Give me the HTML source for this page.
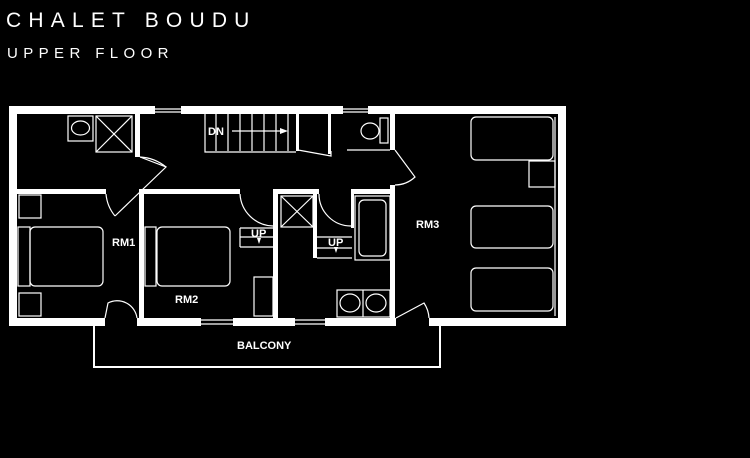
<!DOCTYPE html>
<html><head><style>
body{margin:0;background:#000;width:750px;height:458px;overflow:hidden}
svg{position:absolute;left:0;top:0}
.t{font-family:"Liberation Sans",sans-serif;fill:#fff}
</style></head><body>
<svg width="750" height="458" viewBox="0 0 750 458">
<text class="t" x="6" y="27" font-size="21" letter-spacing="7.2">CHALET BOUDU</text>
<text class="t" x="7" y="58" font-size="15" letter-spacing="5.4">UPPER FLOOR</text>
<g fill="#fff">
<rect x="9" y="106" width="146" height="8"/><rect x="181" y="106" width="162" height="8"/><rect x="368" y="106" width="198" height="8"/>
<rect x="9" y="106" width="8" height="220"/><rect x="558" y="106" width="8" height="220"/>
<rect x="9" y="318" width="96" height="8"/><rect x="137" y="318" width="64" height="8"/><rect x="233" y="318" width="62" height="8"/><rect x="325" y="318" width="71" height="8"/><rect x="429" y="318" width="137" height="8"/>
<rect x="17" y="189" width="89" height="5"/><rect x="140" y="189" width="100" height="5"/><rect x="273" y="189" width="46" height="5"/><rect x="351" y="189" width="42" height="5"/>
<rect x="139" y="189" width="5" height="129"/><rect x="273" y="189" width="5" height="129"/>
<rect x="390" y="114" width="5" height="36"/><rect x="390" y="185" width="5" height="133"/>
<rect x="313" y="192" width="4" height="66"/><rect x="351" y="192" width="3" height="36"/>
<rect x="135" y="114" width="5" height="43"/>
<rect x="296" y="114" width="3" height="37"/><rect x="328" y="114" width="3" height="40"/>
</g>
<g fill="none" stroke="#fff" stroke-width="1.2">
<line x1="155" y1="109" x2="181" y2="109"/><line x1="155" y1="112" x2="181" y2="112"/>
<line x1="343" y1="109" x2="368" y2="109"/><line x1="343" y1="112" x2="368" y2="112"/>
<line x1="201" y1="320" x2="233" y2="320"/><line x1="201" y1="324" x2="233" y2="324"/>
<line x1="295" y1="320" x2="325" y2="320"/><line x1="295" y1="324" x2="325" y2="324"/>
<path d="M94 326 V367 H440 V326" stroke-width="2"/>
<path d="M205 114 V152 H296"/>
<path d="M216 114V151M228 114V151M240 114V151M252 114V151M264 114V151M276 114V151M288 114V151"/>
<line x1="232" y1="131" x2="280" y2="131"/>
<path d="M140 157 L166 167 L115 216"/><path d="M140 157 A45 45 0 0 1 166 167"/><path d="M106 194 A40 40 0 0 0 115 216"/>
<path d="M331 151 L331 156 L298 150"/>
<path d="M395 150 L415 177 A30 30 0 0 1 395 185"/>
<path d="M240 194 A34 34 0 0 0 273 226"/>
<path d="M319 194 A32 32 0 0 0 351 226"/>
<path d="M105 318 L108 303 A20 20 0 0 1 137 318"/>
<path d="M396 318 L424 303 A30 30 0 0 1 429 318"/>
<rect x="19" y="195" width="22" height="23"/><rect x="19" y="293" width="22" height="23"/>
<rect x="18" y="227" width="12" height="59"/><rect x="30" y="227" width="73" height="59" rx="5"/>
<rect x="145" y="227" width="11" height="59"/><rect x="157" y="227" width="73" height="59" rx="5"/>
<rect x="254" y="277" width="19" height="39"/>
<path d="M240 228 H274 M240 237 H274 M240 247 H274 M240 228 V247"/>
<rect x="471" y="117" width="82" height="43" rx="5"/><rect x="471" y="206" width="82" height="42" rx="5"/><rect x="471" y="268" width="82" height="43" rx="5"/>
<rect x="529" y="161" width="26" height="26"/>
<line x1="555" y1="117" x2="555" y2="316"/>
<rect x="68" y="116" width="25" height="25"/><ellipse cx="80.5" cy="128" rx="9" ry="7"/>
<rect x="96" y="116" width="36" height="36"/><path d="M96 116 L132 152 M132 116 L96 152"/>
<ellipse cx="370" cy="131" rx="9" ry="8"/><rect x="380" y="118" width="8" height="25"/>
<line x1="347" y1="150" x2="390" y2="150"/>
<rect x="281" y="196" width="32" height="31"/><path d="M281 196 L313 227 M313 196 L281 227"/>
<path d="M317 237 H352 M317 248 H352 M317 258 H352"/>
<rect x="355" y="196" width="35" height="64"/><rect x="359" y="200" width="27" height="56" rx="5"/>
<rect x="337" y="290" width="53" height="27"/><line x1="363" y1="290" x2="363" y2="317"/>
<ellipse cx="350" cy="303" rx="10" ry="9"/><ellipse cx="376" cy="303" rx="10" ry="9"/>
</g>
<path d="M280 128 L288 131 L280 134Z" fill="#fff"/>
<path d="M257 238 L261 238 L259 244Z M334 247 L338 247 L336 253Z" fill="#fff"/>
<g class="t" font-size="11" font-weight="bold">
<text x="208" y="135">DN</text>
<text x="112" y="246">RM1</text>
<text x="175" y="303">RM2</text>
<text x="251" y="237">UP</text>
<text x="328" y="246">UP</text>
<text x="416" y="228">RM3</text>
<text x="237" y="349">BALCONY</text>
</g>
</svg>
</body></html>
